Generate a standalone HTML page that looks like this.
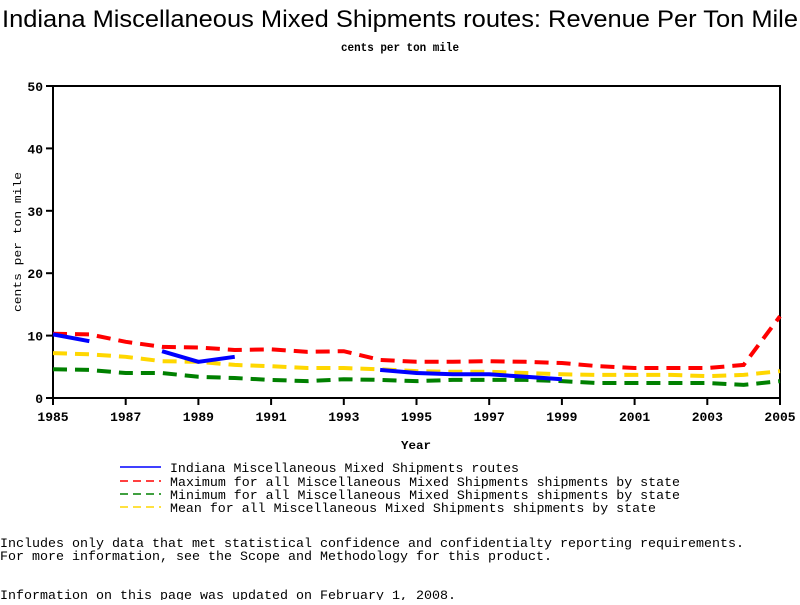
<!DOCTYPE html>
<html><head><meta charset="utf-8"><style>
body{margin:0;background:#fff;}
svg text{font-family:"Liberation Mono",monospace;}
</style></head><body>
<svg id="chart" width="800" height="600" xmlns="http://www.w3.org/2000/svg">
<text x="400" y="27" text-anchor="middle" font-size="24" style="font-family:'Liberation Sans',sans-serif" textLength="796" lengthAdjust="spacingAndGlyphs">Indiana Miscellaneous Mixed Shipments routes: Revenue Per Ton Mile</text>
<text x="400" y="51" text-anchor="middle" font-size="12" font-weight="bold" textLength="118" lengthAdjust="spacingAndGlyphs">cents per ton mile</text>
<rect x="53" y="86" width="727" height="312" fill="none" stroke="#000" stroke-width="2"/>
<g id="axes"></g>
<g id="series"></g>
<text x="416" y="449" text-anchor="middle" font-size="12" font-weight="bold" textLength="30" lengthAdjust="spacingAndGlyphs">Year</text>
<text transform="translate(21,242) rotate(-90)" text-anchor="middle" font-size="11" textLength="140" lengthAdjust="spacingAndGlyphs">cents per ton mile</text>
<g font-size="13">
<line x1="120" y1="467" x2="161" y2="467" stroke="#0000ff" stroke-width="1.5"/>
<text x="170" y="472" textLength="349" lengthAdjust="spacingAndGlyphs">Indiana Miscellaneous Mixed Shipments routes</text>
<line x1="120" y1="481" x2="161" y2="481" stroke="#ff0000" stroke-width="1.5" stroke-dasharray="8,5"/>
<text x="170" y="486" textLength="510" lengthAdjust="spacingAndGlyphs">Maximum for all Miscellaneous Mixed Shipments shipments by state</text>
<line x1="120" y1="494" x2="161" y2="494" stroke="#008000" stroke-width="1.5" stroke-dasharray="8,5"/>
<text x="170" y="499" textLength="510" lengthAdjust="spacingAndGlyphs">Minimum for all Miscellaneous Mixed Shipments shipments by state</text>
<line x1="120" y1="507" x2="161" y2="507" stroke="#ffd700" stroke-width="1.5" stroke-dasharray="8,5"/>
<text x="170" y="512" textLength="486" lengthAdjust="spacingAndGlyphs">Mean for all Miscellaneous Mixed Shipments shipments by state</text>
</g>
<g font-size="13">
<text x="0" y="547" textLength="744" lengthAdjust="spacingAndGlyphs">Includes only data that met statistical confidence and confidentialty reporting requirements.</text>
<text x="0" y="560" textLength="552" lengthAdjust="spacingAndGlyphs">For more information, see the Scope and Methodology for this product.</text>
<text x="0" y="599" textLength="456" lengthAdjust="spacingAndGlyphs">Information on this page was updated on February 1, 2008.</text>
</g>
</svg>
<script>
const years=[1985,1986,1987,1988,1989,1990,1991,1992,1993,1994,1995,1996,1997,1998,1999,2000,2001,2002,2003,2004,2005];
const maxVals=[10.3,10.2,9.0,8.2,8.1,7.7,7.8,7.4,7.5,6.1,5.8,5.8,5.9,5.8,5.6,5.1,4.8,4.8,4.8,5.3,13.1];
const meanVals=[7.2,7.0,6.6,5.9,5.8,5.3,5.1,4.8,4.8,4.6,4.3,4.2,4.2,4.0,3.8,3.7,3.7,3.7,3.5,3.7,4.3];
const minVals=[4.6,4.5,4.0,4.0,3.4,3.2,2.9,2.7,3.0,2.9,2.7,2.9,2.9,2.9,2.7,2.4,2.4,2.4,2.4,2.1,2.7];
const indianaVals=[10.2,9.1,null,7.5,5.8,6.6,null,null,null,4.5,4.0,3.8,3.8,3.4,3.0,null,null,null,null,null,null];
const yTicks=[0,10,20,30,40,50];
const xTicks=[1985,1987,1989,1991,1993,1995,1997,1999,2001,2003,2005];
const NS="http://www.w3.org/2000/svg";
function xs(v){return 53+(v-1985)*(727/20);}
function ys(v){return 398-v*6.24;}
const axes=document.getElementById('axes');
yTicks.forEach(t=>{
  const l=document.createElementNS(NS,'line');
  
  
  l.setAttribute('x1',46);l.setAttribute('x2',53);l.setAttribute('y1',ys(t));l.setAttribute('y2',ys(t));l.setAttribute('stroke','#000');l.setAttribute('stroke-width',2);
  axes.appendChild(l);
  const tx=document.createElementNS(NS,'text');
  
  
  tx.setAttribute('x',43);tx.setAttribute('y',ys(t)+5);tx.setAttribute('text-anchor','end');tx.setAttribute('font-size','13');tx.setAttribute('font-weight','bold');
  tx.textContent=t;axes.appendChild(tx);
});
xTicks.forEach(t=>{
  const l=document.createElementNS(NS,'line');
  
  
  l.setAttribute('x1',xs(t));l.setAttribute('x2',xs(t));l.setAttribute('y1',398);l.setAttribute('y2',405);l.setAttribute('stroke','#000');l.setAttribute('stroke-width',2);
  axes.appendChild(l);
  const tx=document.createElementNS(NS,'text');
  
  
  tx.setAttribute('x',xs(t));tx.setAttribute('y',421);tx.setAttribute('text-anchor','middle');tx.setAttribute('font-size','13');tx.setAttribute('font-weight','bold');
  tx.textContent=t;axes.appendChild(tx);
});
const sg=document.getElementById('series');
function drawSeries(vals,color,dash,name,w){
  let segs=[],cur=[];
  vals.forEach((v,i)=>{if(v===null){if(cur.length)segs.push(cur);cur=[];}else cur.push(xs(years[i])+','+ys(v));});
  if(cur.length)segs.push(cur);
  segs.forEach(s=>{
    const p=document.createElementNS(NS,'polyline');
    
    
    p.setAttribute('points',s.join(' '));p.setAttribute('fill','none');p.setAttribute('stroke',color);p.setAttribute('stroke-width',w);
    if(dash)p.setAttribute('stroke-dasharray',dash);
    sg.appendChild(p);
  });
}
drawSeries(minVals,'#008000','14,8','min-line',4);
drawSeries(meanVals,'#ffd700','14,8','mean-line',4);
drawSeries(maxVals,'#ff0000','14,8','max-line',4);
drawSeries(indianaVals,'#0000ff',null,'indiana-line',4);
</script>
</body></html>
